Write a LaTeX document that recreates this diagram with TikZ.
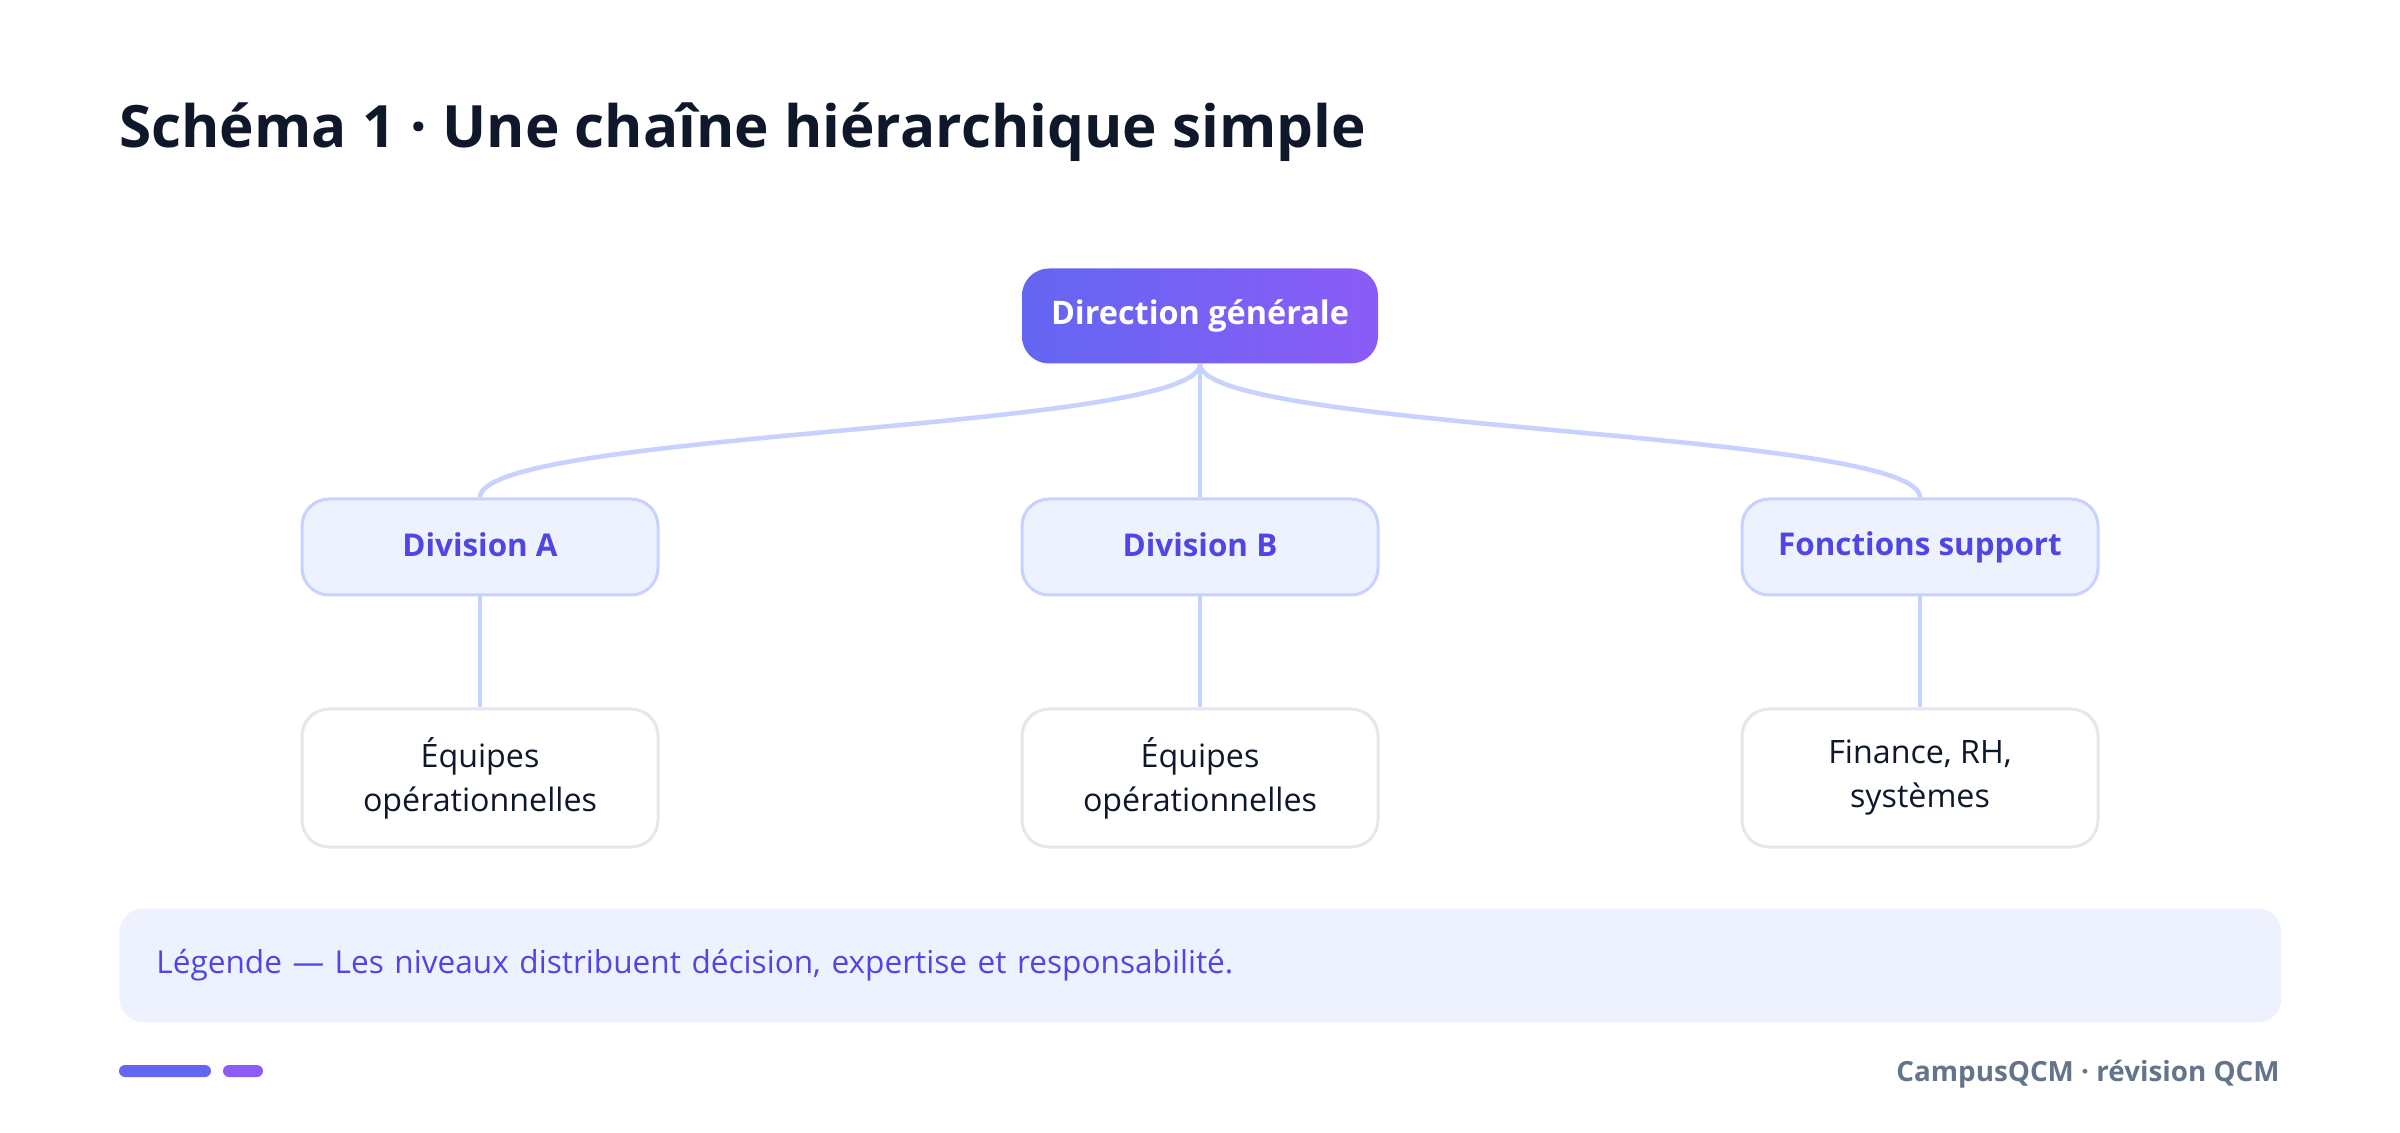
\documentclass[tikz,border=0pt]{standalone}
\usepackage{fontspec}
\setmainfont{Open Sans}
\usepackage{xcolor}
\usepackage{tikz}
\usetikzlibrary{calc}

\definecolor{ink}{HTML}{0F172A}
\definecolor{indigoA}{HTML}{6366F1}
\definecolor{violetA}{HTML}{8B5CF6}
\definecolor{paleFill}{HTML}{EEF2FF}
\definecolor{paleLine}{HTML}{C7D2FE}
\definecolor{greyLine}{HTML}{E5E7EB}
\definecolor{divText}{HTML}{4F46E5}
\definecolor{footText}{HTML}{64748B}

\begin{document}
\begin{tikzpicture}[
    x=0.5pt, y=-0.5pt,
    topbox/.style={rounded corners=13.5pt, minimum width=178pt, minimum height=47.5pt,
                   left color=indigoA, right color=violetA, text=white,
                   font=\fontsize{16.2}{18}\selectfont\bfseries, align=center},
    divbox/.style={draw=paleLine, fill=paleFill, line width=1.5pt, rounded corners=13.5pt,
                   minimum width=178pt, minimum height=48pt, text=divText,
                   font=\fontsize{15.7}{18}\selectfont\bfseries, align=center},
    teambox/.style={draw=greyLine, fill=white, line width=1.5pt, rounded corners=13.5pt,
                    minimum width=178pt, minimum height=69pt, text=ink,
                    font=\fontsize{16.1}{22}\selectfont, align=center},
    link/.style={paleLine, line width=2.3pt},
]
\useasboundingbox (0,0) rectangle (2400,1133);

% --- Title ---
\node[anchor=base west, inner sep=0pt, text=ink, font=\fontsize{29.2}{34}\selectfont\bfseries]
    (title) at (119,148) {Schéma 1 · Une chaîne hiérarchique simple};

% --- Nodes: top, three divisions, three teams ---
\node[topbox]  (dir)  at (1200,316) {Direction générale};
\node[divbox]  (divA) at (480,547)  {\raisebox{2pt}{Division A}};
\node[divbox]  (divB) at (1200,547) {\raisebox{2pt}{Division B}};
\node[divbox]  (sup)  at (1920,547) {\raisebox{2pt}{Fonctions support}};
\node[teambox] (eqA)  at (480,778)  {Équipes\\opérationnelles};
\node[teambox] (eqB)  at (1200,778) {Équipes\\opérationnelles};
\node[teambox] (fin)  at (1920,778) {Finance, RH,\\systèmes};

% ===================== EDGES =====================

% Direction -> divisions
\draw[link] (dir.south) .. controls +(0,67) and +(0,-67) .. (divA.north);
\draw[link] (dir.south) -- (divB.north);
\draw[link] (dir.south) .. controls +(0,67) and +(0,-67) .. (sup.north);

% Divisions -> teams
\draw[link] (divA.south) -- (eqA.north);
\draw[link] (divB.south) -- (eqB.north);
\draw[link] (sup.south) -- (fin.north);

% --- Legend strip ---
\node[fill=paleFill, rounded corners=12pt, anchor=north west, minimum width=1081pt,
      minimum height=57pt, text width=1044pt, inner xsep=18.5pt, align=left, text=divText,
      font=\fontsize{15.8}{18}\selectfont] (legend) at (119,908)
    {Légende — Les niveaux distribuent décision, expertise et responsabilité.};

% --- Footer ---
\fill[indigoA, rounded corners=3pt] (119,1065) rectangle (211,1077);
\fill[violetA, rounded corners=3pt] (223,1065) rectangle (263,1077);
\node[anchor=base east, inner sep=0pt, text=footText, font=\fontsize{13.9}{16}\selectfont\bfseries]
    (foot) at (2280,1081) {CampusQCM · révision QCM};

\end{tikzpicture}
\end{document}
